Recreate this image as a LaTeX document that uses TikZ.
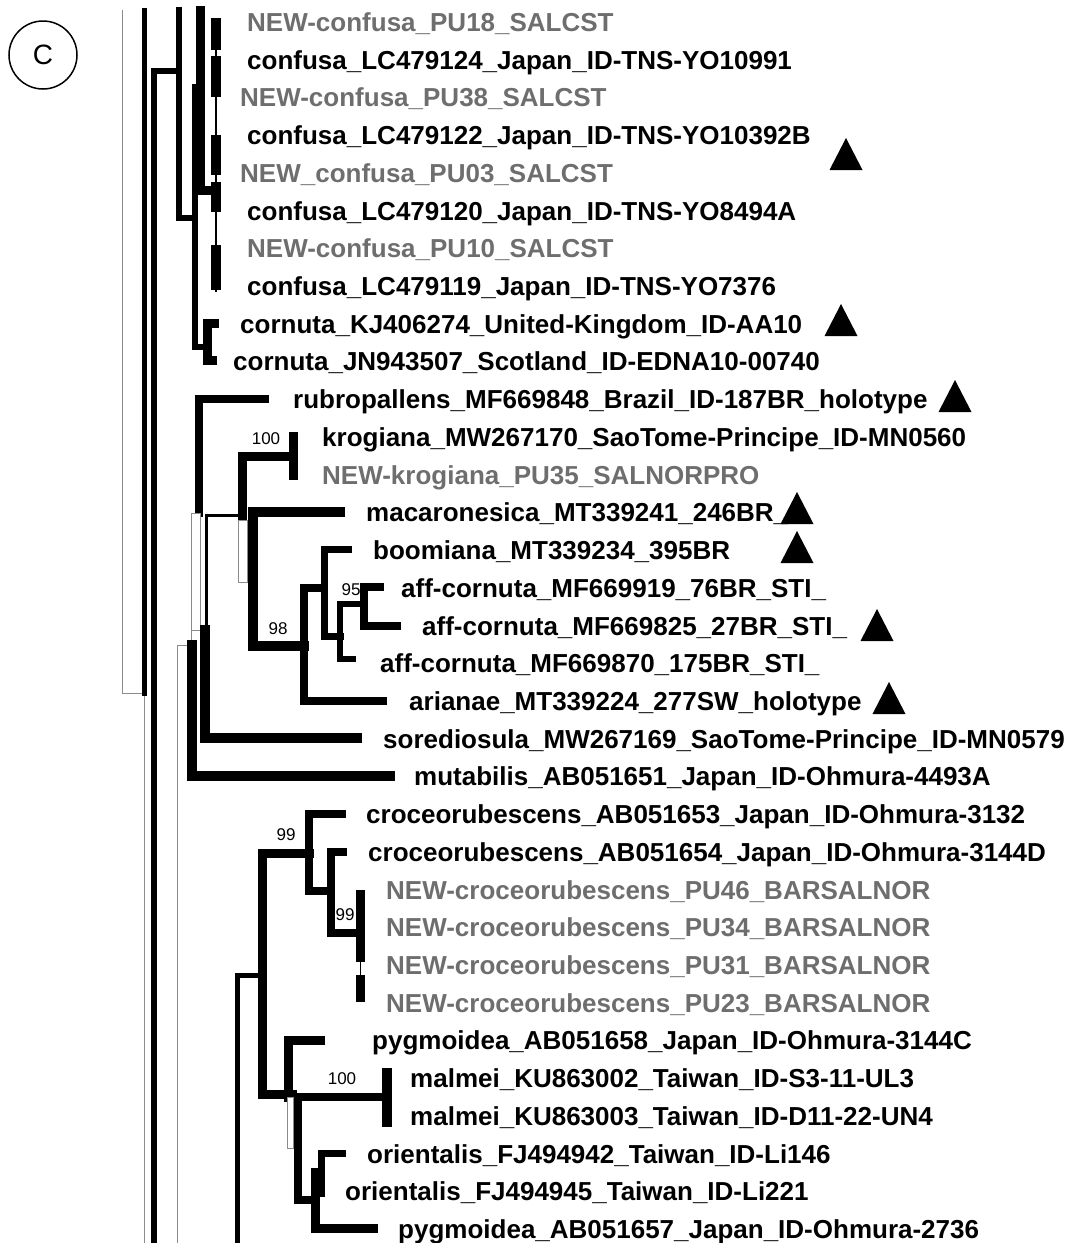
\documentclass[tikz,border=0pt]{standalone}
\usepackage{fontspec}
\setmainfont{Liberation Sans}
\usetikzlibrary{calc}

\definecolor{newgray}{RGB}{110,110,110}
\definecolor{edgegray}{RGB}{140,140,140}

\newcommand{\tri}[2]{\fill (#1-16.5,#2+16) -- (#1+16.5,#2+16) -- (#1,#2-16) -- cycle;}

\begin{document}
\begin{tikzpicture}[x=1pt, y=-1pt,
    br/.style={line width=#1, line cap=rect, line join=miter},
    br/.default=8,
    gline/.style={edgegray, line width=1},
    hollow/.style={draw=edgegray, fill=white, line width=1},
    lab/.style={font=\fontsize{26}{30}\selectfont\bfseries, anchor=base west, inner sep=0pt},
    boot/.style={font=\fontsize{17}{19}\selectfont, inner sep=0pt}]

    \useasboundingbox (0,0) rectangle (1070,1243);

    % panel mark
    \draw[line width=1.5] (43,55) circle (34pt);
    \node[font=\fontsize{28}{30}\selectfont] (mark) at (43,55) {C};

    % backbone
    \draw[gline] (122,10) -- (122,693) -- (144.5,693) -- (144.5,1243);
    \draw[br=5] (144.5,10) -- (144.5,693);
    \draw[br=6] (178,71) -| (154,1243);
    \draw[br=6] (178.5,10) -- (178.5,218) -- (195,218);
    \draw[br=9] (200,10) -- (200,190) -- (214,190);
    \draw[br=6] (195,87) -- (195,347) -- (207,347);

    % confusa
    \draw[line width=1.5] (216,18) -- (216,292);
    \foreach \a/\b in {18/50, 56/97, 135/175, 182/212, 245/290}
        \draw[line width=10] (216,\a) -- (216,\b);
    % cornuta
    \draw[br=9] (214,323) -| (207,360) -- (212,360);

    % rubropallens .. sorediosula
    \draw[br=8] (199,513) -- (199,399) -- (265,399);
    \filldraw[hollow] (191.5,513) rectangle (200.5,630);
    \draw[gline] (191.5,630) -- (191.5,645) -- (177,645) -- (177,1243);
    \draw[br=10] (192,645) -- (192,776) -- (390,776);
    \draw[br=10] (205,630) -- (205,738) -- (357,738);
    \draw[br=3.5] (206.5,630) -- (206.5,515.5) -- (243,515.5);
    \draw[br=9] (242.5,515) -- (242.5,456) -- (292,456);
    \draw[br=9] (293,436) -- (293,475);
    \filldraw[hollow] (238.5,520) rectangle (247,582);
    \draw[br=10] (340,512) -| (253,646) -- (304,646);
    \draw[br=8] (324,588) -| (304,701) -- (383,701);
    \draw[br=7] (348,549) -| (324,636) -- (340,636);
    \draw[br=6] (364,604) -| (340,659) -- (353,659);
    \draw[br=8] (380,587) -| (364,626) -- (397,626);

    % croceorubescens .. pygmoidea
    \draw[br=5] (237.5,1243) -- (237.5,975) -- (262,975);
    \draw[br=9] (309,853) -| (262.5,1094) -- (292,1094);
    \draw[br=8] (342,814) -| (309,891) -- (331,891);
    \draw[br=8] (343,852) -| (331,933) -- (360,933);
    \draw[line width=1.5] (360.5,890) -- (360.5,1002);
    \draw[line width=9] (360.5,890) -- (360.5,962) (360.5,975) -- (360.5,1002);
    \draw[br=9] (320,1040) -| (288,1097);
    \filldraw[hollow] (287,1097) rectangle (293,1148);
    \draw[br=8] (387,1097) -| (298,1200) -- (315,1200);
    \draw[br=10] (387,1073) -- (387,1122);
    \draw[br=9] (315,1172) -- (315,1228) -- (373,1228);
    \fill (312,1170) rectangle (325,1197);
    \draw[br=7] (342,1153) -| (321.5,1190);

    % support values
    \node[boot] (b1) at (266,439) {100};
    \node[boot] (b2) at (278,629) {98};
    \node[boot] (b3) at (351,590) {95};
    \node[boot] (b4) at (286,835) {99};
    \node[boot] (b5) at (345,915) {99};
    \node[boot] (b6) at (342,1079) {100};

    % tips
    \foreach \i/\x/\t/\c in {
        1/247/NEW-confusa\_PU18\_SALCST/newgray,
        2/247/confusa\_LC479124\_Japan\_ID-TNS-YO10991/black,
        3/240/NEW-confusa\_PU38\_SALCST/newgray,
        4/247/confusa\_LC479122\_Japan\_ID-TNS-YO10392B/black,
        5/240/NEW\_confusa\_PU03\_SALCST/newgray,
        6/247/confusa\_LC479120\_Japan\_ID-TNS-YO8494A/black,
        7/247/NEW-confusa\_PU10\_SALCST/newgray,
        8/247/confusa\_LC479119\_Japan\_ID-TNS-YO7376/black,
        9/240/cornuta\_KJ406274\_United-Kingdom\_ID-AA10/black,
        10/233/cornuta\_JN943507\_Scotland\_ID-EDNA10-00740/black,
        11/293/rubropallens\_MF669848\_Brazil\_ID-187BR\_holotype/black,
        12/322/krogiana\_MW267170\_SaoTome-Principe\_ID-MN0560/black,
        13/322/NEW-krogiana\_PU35\_SALNORPRO/newgray,
        14/366/macaronesica\_MT339241\_246BR\_/black,
        15/373/boomiana\_MT339234\_395BR/black,
        16/401/aff-cornuta\_MF669919\_76BR\_STI\_/black,
        17/422/aff-cornuta\_MF669825\_27BR\_STI\_/black,
        18/380/aff-cornuta\_MF669870\_175BR\_STI\_/black,
        19/409/arianae\_MT339224\_277SW\_holotype/black,
        20/383/sorediosula\_MW267169\_SaoTome-Principe\_ID-MN0579/black,
        21/414/mutabilis\_AB051651\_Japan\_ID-Ohmura-4493A/black,
        22/366/croceorubescens\_AB051653\_Japan\_ID-Ohmura-3132/black,
        23/368/croceorubescens\_AB051654\_Japan\_ID-Ohmura-3144D/black,
        24/386/NEW-croceorubescens\_PU46\_BARSALNOR/newgray,
        25/386/NEW-croceorubescens\_PU34\_BARSALNOR/newgray,
        26/386/NEW-croceorubescens\_PU31\_BARSALNOR/newgray,
        27/386/NEW-croceorubescens\_PU23\_BARSALNOR/newgray,
        28/372/pygmoidea\_AB051658\_Japan\_ID-Ohmura-3144C/black,
        29/410/malmei\_KU863002\_Taiwan\_ID-S3-11-UL3/black,
        30/410/malmei\_KU863003\_Taiwan\_ID-D11-22-UN4/black,
        31/367/orientalis\_FJ494942\_Taiwan\_ID-Li146/black,
        32/345/orientalis\_FJ494945\_Taiwan\_ID-Li221/black,
        33/398/pygmoidea\_AB051657\_Japan\_ID-Ohmura-2736/black}
    {
        \pgfmathsetmacro{\yy}{22+(\i-1)*37.72+9.5}
        \node[lab, text=\c] (t\i) at (\x,\yy) {\t};
    }

    % type specimens
    \tri{846}{154}
    \tri{841}{320}
    \tri{955}{396}
    \tri{797}{508}
    \tri{797}{547}
    \tri{877}{625}
    \tri{889}{698}

\end{tikzpicture}
\end{document}
